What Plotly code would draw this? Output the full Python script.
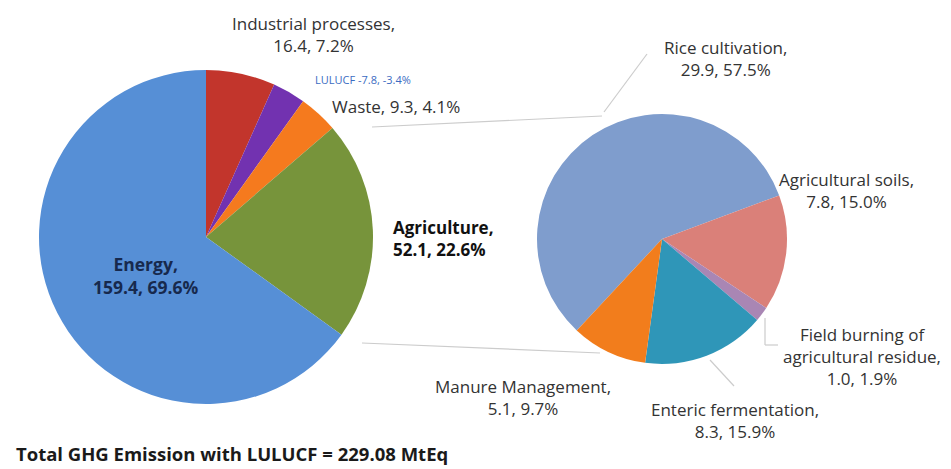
import plotly.graph_objects as go

# ---- data: total GHG by sector (MtCO2eq) ----
sectors = ["Industrial processes", "LULUCF", "Waste", "Agriculture", "Energy"]
sector_values = [16.4, -7.8, 9.3, 52.1, 159.4]
sector_shares = [7.2, -3.4, 4.1, 22.6, 69.6]
sector_colors = ["#c2352c", "#7232b0", "#f57a1e", "#77943b", "#568fd6"]

# ---- data: agriculture breakdown ----
agri = ["Rice cultivation", "Agricultural soils", "Field burning of agricultural residue",
        "Enteric fermentation", "Manure Management"]
agri_values = [29.9, 7.8, 1.0, 8.3, 5.1]
agri_shares = [57.5, 15.0, 1.9, 15.9, 9.7]
agri_colors = ["#7f9dcd", "#da8079", "#a986b4", "#2f96b8", "#f27d1c"]

total_text = "Total GHG Emission with LULUCF = 229.08 MtEq"

W, H = 951, 469
FONT = "Open Sans"

fig = go.Figure()
fig.add_trace(go.Pie(
    labels=sectors, values=[abs(v) for v in sector_values],
    marker=dict(colors=sector_colors, line=dict(width=0)),
    sort=False, direction="clockwise", rotation=0,
    textinfo="none", hoverinfo="label+value",
    domain=dict(x=[39 / W, 373 / W], y=[(H - 404) / H, (H - 70) / H]),
    showlegend=False,
))
fig.add_trace(go.Pie(
    labels=agri, values=agri_values,
    marker=dict(colors=agri_colors, line=dict(width=0)),
    sort=False, direction="clockwise", rotation=223,
    textinfo="none", hoverinfo="label+value",
    domain=dict(x=[537 / W, 787 / W], y=[(H - 364) / H, (H - 114) / H]),
    showlegend=False,
))

def num(v, s):
    return f"{v:.1f}, {s:.1f}%"

ann = []
def add(text, x, y, size=17, color="#333333", bold=False, xanchor="center"):
    if bold:
        text = f"<b>{text}</b>"
    ann.append(dict(text=text, x=x / W, y=1 - y / H, xref="paper", yref="paper",
                    showarrow=False, xanchor=xanchor, yanchor="middle",
                    align="center" if xanchor == "center" else "left",
                    font=dict(family=FONT, size=size, color=color)))

add(f"{sectors[0]},<br>{num(sector_values[0], sector_shares[0])}", 313, 34)
add(f"{sectors[1]} {num(sector_values[1], sector_shares[1])}", 363, 80, size=11, color="#3b6cc2")
add(f"{sectors[2]}, {num(sector_values[2], sector_shares[2])}", 396, 107)
add(f"{sectors[3]},<br>{num(sector_values[3], sector_shares[3])}", 391, 239, size=17,
    color="#111111", bold=True, xanchor="left")
add(f"{sectors[4]},<br>{num(sector_values[4], sector_shares[4])}", 146, 275, size=17.5,
    color="#17294d", bold=True)

add(f"{agri[0]},<br>{num(agri_values[0], agri_shares[0])}", 725, 58)
add(f"{agri[1]},<br>{num(agri_values[1], agri_shares[1])}", 846, 190)
add("Field burning of<br>agricultural residue,<br>" + num(agri_values[2], agri_shares[2]), 862, 356)
add(f"{agri[3]},<br>{num(agri_values[3], agri_shares[3])}", 735, 420)
add(f"{agri[4]},<br>{num(agri_values[4], agri_shares[4])}", 523, 397)

ann.append(dict(text=f"<b>{total_text}</b>", x=14 / W, y=1 - 453 / H, xref="paper", yref="paper",
                showarrow=False, xanchor="left", yanchor="middle",
                font=dict(family=FONT, size=18.5, color="#1a1a1a")))

line_style = dict(color="#cccccc", width=1.2)
shapes = []
def seg(x0, y0, x1, y1):
    shapes.append(dict(type="line", xref="paper", yref="paper",
                       x0=x0 / W, y0=1 - y0 / H, x1=x1 / W, y1=1 - y1 / H, line=line_style))

seg(372, 127, 602, 116)   # upper connector
seg(362, 343, 600, 353)   # lower connector
seg(647, 54, 604, 112)    # rice leader
seg(710, 360, 734, 386)   # enteric leader
seg(765, 318, 765, 345)   # field burning leader
seg(765, 345, 778, 345)

fig.update_layout(
    width=W, height=H,
    margin=dict(l=0, r=0, t=0, b=0),
    paper_bgcolor="white", plot_bgcolor="white",
    annotations=ann, shapes=shapes,
)

fig.write_html("out.html", config={"displayModeBar": False},
               post_script="document.body.style.margin='0px';")
